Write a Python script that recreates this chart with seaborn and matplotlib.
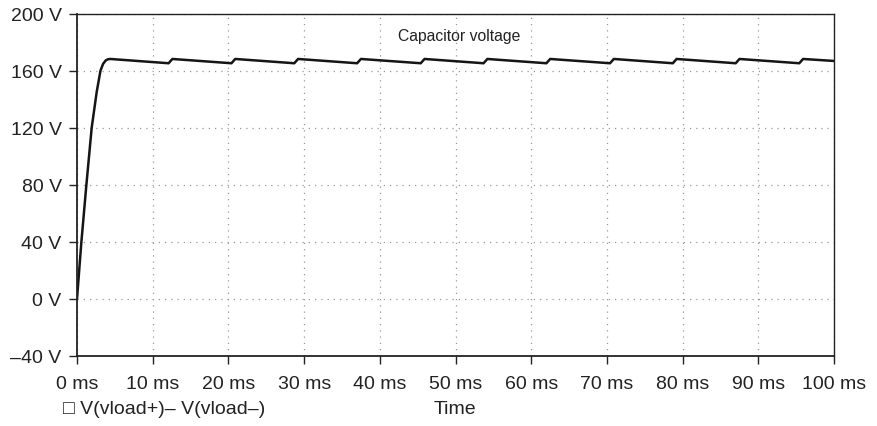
import numpy as np
import pandas as pd
import seaborn as sns
import matplotlib.pyplot as plt

# Capacitor voltage (time in ms, voltage in V)
rise_t = [0.0, 0.58, 1.24, 1.94, 2.6, 3.1, 3.45, 3.8, 4.1, 4.4]
rise_v = [0.0, 40.0, 80.0, 120.0, 145.0, 160.0, 164.8, 167.2, 168.0, 168.2]

# sawtooth: trough just before each recharge, then the new peak
trough_t = [12.1, 20.4, 28.7, 37.0, 45.4, 53.7, 62.0, 70.4, 78.7, 87.0, 95.4]
trough_v = [165.2, 165.2, 165.2, 165.2, 165.2, 165.2, 165.2, 165.2, 165.2, 165.2, 165.2]
peak_t = [12.6, 20.9, 29.2, 37.5, 45.9, 54.2, 62.5, 70.9, 79.2, 87.5, 95.9]
peak_v = [168.2, 168.2, 168.2, 168.2, 168.2, 168.2, 168.2, 168.2, 168.2, 168.2, 168.2]
end_t = [100.0]
end_v = [166.8]

x_ticks = [0, 10, 20, 30, 40, 50, 60, 70, 80, 90, 100]
y_ticks = [-40, 0, 40, 80, 120, 160, 200]

# build the trace in time order
saw_t, saw_v = [], []
for tt, tv, pt, pv in zip(trough_t, trough_v, peak_t, peak_v):
    saw_t += [tt, pt]
    saw_v += [tv, pv]
df = pd.DataFrame({"time": rise_t + saw_t + end_t,
                   "volt": rise_v + saw_v + end_v})

sns.set_style("ticks")
plt.rcParams["font.family"] = ["Liberation Sans", "DejaVu Sans"]

fig = plt.figure(figsize=(8.78, 4.27), dpi=100)
ax = fig.add_axes([0.0877, 0.164, 0.8623, 0.8018])

sns.lineplot(data=df, x="time", y="volt", ax=ax, color="#151515",
             linewidth=1.8, sort=False, estimator=None)

ax.set_xlim(0, 100)
ax.set_ylim(-40, 200)
ax.set_xticks(x_ticks)
ax.set_xticklabels([f"{t} ms" for t in x_ticks])
ax.set_yticks(y_ticks)
ax.set_yticklabels([f"{v} V".replace("-", "\u2013") for v in y_ticks])
ax.tick_params(axis="both", direction="out", length=6, width=1.0,
               labelsize=14, color="#222222", labelcolor="#222222")
ax.tick_params(axis="x", pad=8)
ax.tick_params(axis="y", pad=5)
ax.grid(True, color="#9a9a9a", linestyle=(0, (1, 4)), linewidth=0.9)
for s in ax.spines.values():
    s.set_color("#222222")
    s.set_linewidth(1.0)
ax.spines["left"].set_linewidth(1.3)
ax.spines["bottom"].set_linewidth(1.3)
ax.set_xlabel("")
ax.set_ylabel("")

ax.text(50.5, 184.5, "Capacitor voltage", ha="center", va="center",
        fontsize=11.3, color="#222222")

fig.text(0.072, 0.040, "\u25a1 V(vload+)\u2013 V(vload\u2013)", ha="left",
         va="center", fontsize=14, color="#222222")
fig.text(0.494, 0.040, "Time", ha="left", va="center", fontsize=14,
         color="#222222")

plt.savefig("out.png", dpi=100)
